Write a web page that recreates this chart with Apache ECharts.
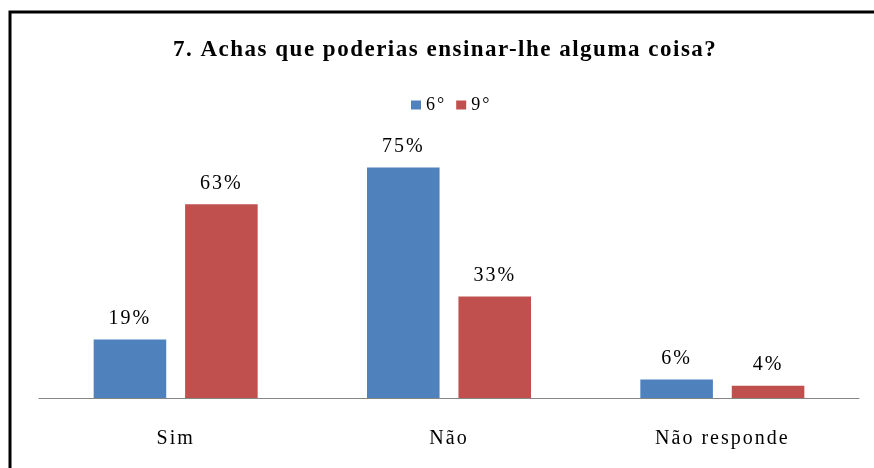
<!DOCTYPE html>
<html>
<head>
<meta charset="utf-8">
<script src="https://cdn.jsdelivr.net/npm/echarts@6/dist/echarts.min.js"></script>
<style>
  html, body { margin: 0; padding: 0; background: #fff; }
  #chart { width: 874px; height: 468px; }
</style>
</head>
<body>
<div id="chart"></div>
<script>
// Survey question 7 — answers by school year (percentages)
const titleText = '7. Achas que poderias ensinar-lhe alguma coisa?';
const categories = ['Sim', 'Não', 'Não responde'];
const seriesNames = ['6°', '9°'];
const values6 = [19, 75, 6];
const values9 = [63, 33, 4];
const colors = ['#4F81BD', '#C0504D'];

const serif = '"Liberation Serif", "Times New Roman", serif';

// Loosely tracked text, the way old office charts set their serif labels:
// apply the spacing when drawing and when measuring, so layout stays right.
function spacingFor(font) {
  return /bold/.test(font || '') ? '1.5px' : '2px';
}
(function () {
  const proto = CanvasRenderingContext2D.prototype;
  if (!('letterSpacing' in proto)) return;
  const fillText = proto.fillText;
  proto.fillText = function () {
    this.letterSpacing = spacingFor(this.font);
    return fillText.apply(this, arguments);
  };
  const measureCtx = document.createElement('canvas').getContext('2d');
  if (echarts.setPlatformAPI) {
    echarts.setPlatformAPI({
      measureText: function (text, font) {
        measureCtx.font = font || '12px sans-serif';
        measureCtx.letterSpacing = spacingFor(measureCtx.font);
        return measureCtx.measureText(text);
      }
    });
  }
})();

const chart = echarts.init(document.getElementById('chart'), null, { renderer: 'canvas' });

function barSeries(name, data, color) {
  return {
    name: name,
    type: 'bar',
    data: data,
    barGap: '26%',
    barCategoryGap: '40%',
    itemStyle: { color: color },
    label: {
      show: true,
      position: 'top',
      distance: 10,
      formatter: '{c}%',
      fontFamily: serif,
      fontSize: 20,
      color: '#000'
    }
  };
}

chart.setOption({
  animation: false,
  backgroundColor: '#fff',
  title: {
    text: titleText,
    left: 168,
    top: 33,
    textStyle: { fontFamily: serif, fontSize: 23, fontWeight: 'bold', color: '#000' }
  },
  legend: {
    data: seriesNames,
    top: 90,
    left: 406,
    icon: 'rect',
    itemWidth: 10,
    itemHeight: 9,
    itemGap: 10,
    textStyle: { fontFamily: serif, fontSize: 18, color: '#000' }
  },
  grid: { left: 39, right: 15, top: 152, bottom: 70, containLabel: false },
  xAxis: {
    type: 'category',
    data: categories,
    axisTick: { show: false },
    axisLine: { lineStyle: { color: '#868686', width: 1 } },
    axisLabel: { fontFamily: serif, fontSize: 20, color: '#000', margin: 30 }
  },
  yAxis: {
    type: 'value',
    min: 0,
    max: 80,
    show: false
  },
  series: [
    barSeries(seriesNames[0], values6, colors[0]),
    barSeries(seriesNames[1], values9, colors[1])
  ],
  graphic: [{
    type: 'polyline',
    shape: { points: [[10, 468], [10, 12], [874, 12]] },
    style: { stroke: '#000', lineWidth: 3, fill: null },
    silent: true
  }]
});
</script>
</body>
</html>
